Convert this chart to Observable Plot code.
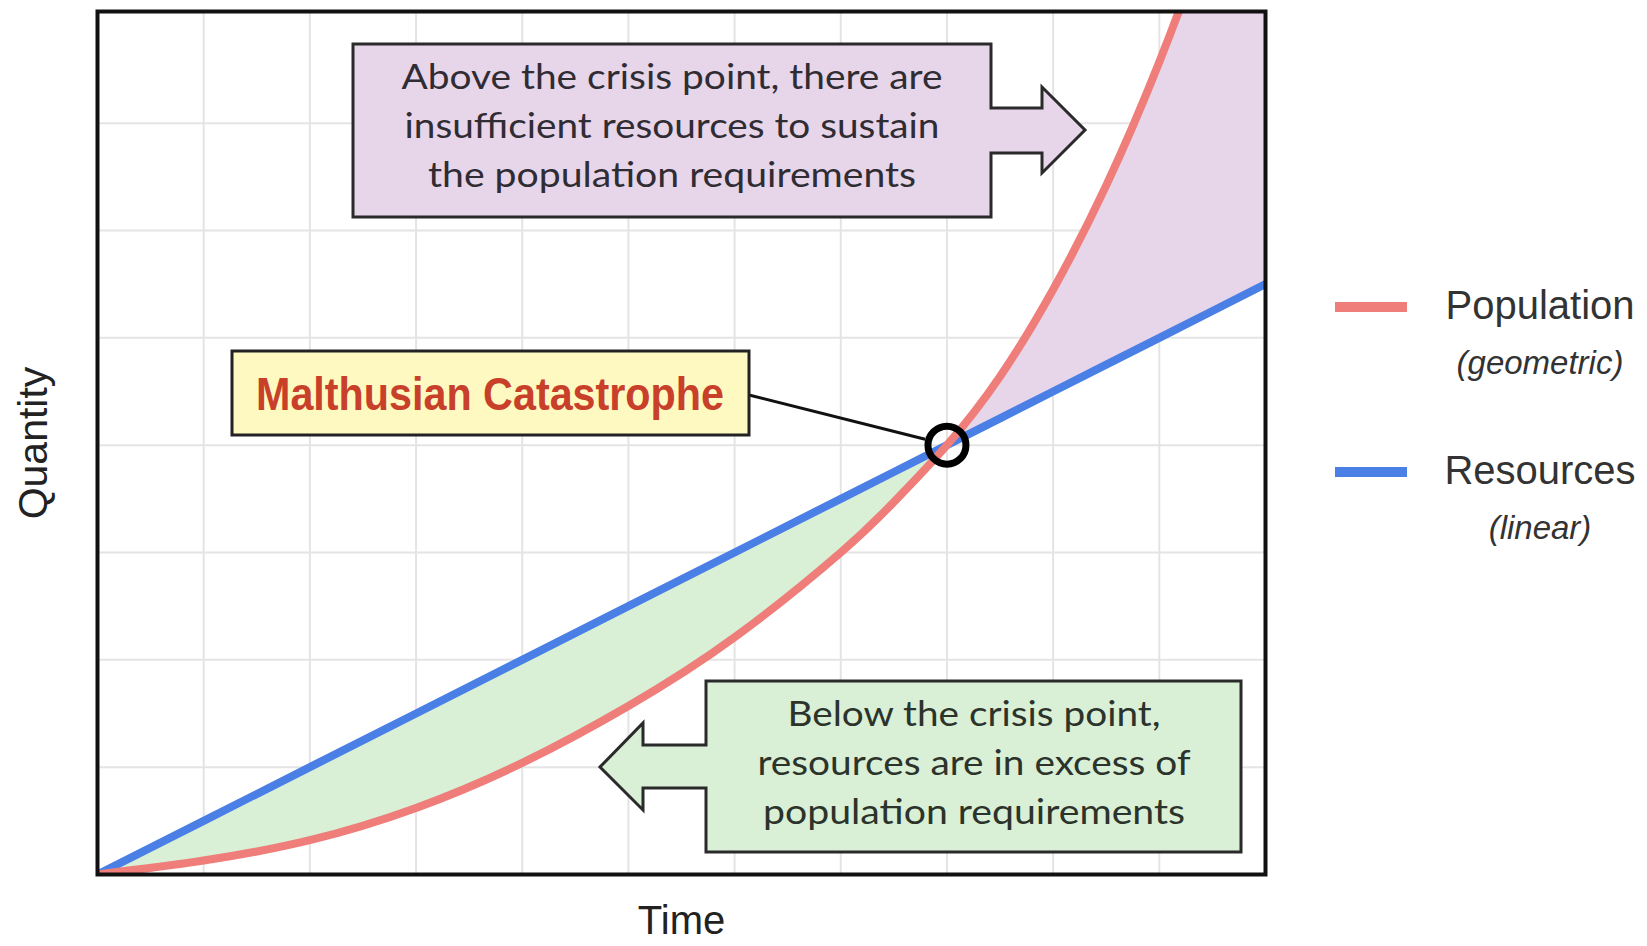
<!DOCTYPE html>
<html>
<head>
<meta charset="utf-8">
<script src="https://cdn.jsdelivr.net/npm/d3@7"></script>
<script src="https://cdn.jsdelivr.net/npm/@observablehq/plot@0.6"></script>
<style>
  html, body { margin: 0; padding: 0; background: #fff; }
  #chart svg { display: block; }
</style>
</head>
<body>
<div id="chart"></div>
<script>
// ---- data ----
const time       = [0, 1, 2, 3, 4, 5, 6, 7, 7.5, 8, 8.5, 9, 9.5, 10, 10.5, 11];
const population = [0, 0.13, 0.32, 0.62, 1.04, 1.57, 2.21, 3.0, 3.47, 4.0, 4.64, 5.45, 6.42, 7.57, 8.92, 10.47];
const resources  = [0, 0.5, 1, 1.5, 2, 2.5, 3, 3.5, 3.75, 4, 4.25, 4.5, 4.75, 5, 5.25, 5.5];
const crisisTime = [8];
const crisisQuantity = [4];
const gridTime = [1, 2, 3, 4, 5, 6, 7, 8, 9, 10];
const gridQuantity = [1, 2, 3, 4, 5, 6, 7];
const seriesNames = ["Population", "Resources"];
const seriesNotes = ["(geometric)", "(linear)"];
const axisLabels = ["Time", "Quantity"];
const crisisLabel = ["Malthusian Catastrophe"];
const aboveText = ["Above the crisis point, there are", "insufficient resources to sustain", "the population requirements"];
const belowText = ["Below the crisis point,", "resources are in excess of", "population requirements"];

// ---- build tables ----
const rows = time.map((t, i) => ({t, pop: population[i], res: resources[i]}));
const crisis = crisisTime.map((t, i) => ({t, q: crisisQuantity[i]}));

const colors = {pop: "#ef7d79", res: "#4a7fe6", green: "#d9efd6", purple: "#e7d5ea", yellow: "#fdf9c0"};

const plot = Plot.plot({
  width: 1647,
  height: 946,
  marginLeft: 97,
  marginRight: 382,
  marginTop: 11,
  marginBottom: 72,
  x: {domain: [0, 11], axis: null},
  y: {domain: [0, 8.04], axis: null},
  style: {background: "#fff", fontFamily: "'Liberation Sans', Arial, sans-serif"},
  marks: [
    Plot.ruleX(gridTime, {stroke: "#e4e4e4", strokeWidth: 2}),
    Plot.ruleY(gridQuantity, {stroke: "#e4e4e4", strokeWidth: 2}),
    Plot.areaY(rows, {x: "t", y1: "res", y2: "pop", fill: "url(#regionFill)", curve: "natural", clip: true}),
    Plot.line(rows, {x: "t", y: "res", stroke: colors.res, strokeWidth: 8, clip: true}),
    Plot.line(rows, {x: "t", y: "pop", stroke: colors.pop, strokeWidth: 8, curve: "natural", clip: true}),
    Plot.frame({stroke: "#111", strokeWidth: 4}),
    Plot.dot(crisis, {x: "t", y: "q", r: 19, stroke: "#000", strokeWidth: 7, fill: "none"}),
    Plot.text([axisLabels[0]], {frameAnchor: "bottom", dy: 47, lineAnchor: "middle", textAnchor: "middle", fontSize: 40, fill: "#222"}),
    Plot.text([axisLabels[1]], {frameAnchor: "left", dx: -64, rotate: -90, lineAnchor: "middle", textAnchor: "middle", fontSize: 41, fill: "#222"})
  ]
});
document.getElementById("chart").appendChild(plot);

// ---- scales from the plot ----
const sx = plot.scale("x"), sy = plot.scale("y");
const X = sx.apply ? v => sx.apply(v) : d3.scaleLinear(sx.domain, sx.range);
const Y = sy.apply ? v => sy.apply(v) : d3.scaleLinear(sy.domain, sy.range);

const svg = d3.select(plot);

// two-colour fill for the region between the curves, split at the crisis time
const fx0 = X(0), fx1 = X(11);
const off = (X(crisisTime[0]) - fx0) / (fx1 - fx0);
const grad = svg.insert("defs", ":first-child").append("linearGradient")
  .attr("id", "regionFill").attr("gradientUnits", "userSpaceOnUse")
  .attr("x1", fx0).attr("x2", fx1).attr("y1", 0).attr("y2", 0);
grad.append("stop").attr("offset", off).attr("stop-color", colors.green);
grad.append("stop").attr("offset", off).attr("stop-color", colors.purple);

const ann = svg.append("g").attr("class", "annotations");

// purple callout (arrow pointing right)
ann.append("path")
  .attr("d", "M353,44 H991 V108 H1042 V87 L1085,130 L1042,173 V153 H991 V217 H353 Z")
  .attr("fill", colors.purple).attr("stroke", "#2a2a2a").attr("stroke-width", 3).attr("stroke-linejoin", "miter");
const aboveBase = [89, 138, 187], aboveLen = [541, 535, 488];
ann.selectAll("text.above").data(aboveText).join("text")
  .attr("x", 672).attr("y", (d, i) => aboveBase[i])
  .attr("text-anchor", "middle").attr("font-family", "Lato, 'Open Sans', sans-serif")
  .attr("font-size", 35).attr("fill", "#302c33")
  .attr("textLength", (d, i) => aboveLen[i]).attr("lengthAdjust", "spacingAndGlyphs")
  .text(d => d);

// green callout (arrow pointing left)
ann.append("path")
  .attr("d", "M706,681 H1241 V852 H706 V788 H643 V810 L600,767 L643,723 V745 H706 Z")
  .attr("fill", colors.green).attr("stroke", "#2a2a2a").attr("stroke-width", 3).attr("stroke-linejoin", "miter");
const belowBase = [726, 775, 824], belowLen = [373, 433, 422];
ann.selectAll("text.below").data(belowText).join("text")
  .attr("x", 974).attr("y", (d, i) => belowBase[i])
  .attr("text-anchor", "middle").attr("font-family", "Lato, 'Open Sans', sans-serif")
  .attr("font-size", 35).attr("fill", "#2b332b")
  .attr("textLength", (d, i) => belowLen[i]).attr("lengthAdjust", "spacingAndGlyphs")
  .text(d => d);

// leader line from label to crisis point
const cx = X(crisisTime[0]), cy = Y(crisisQuantity[0]);
const lx = 749, ly = 395;
const ang = Math.atan2(cy - ly, cx - lx);
ann.append("line")
  .attr("x1", lx).attr("y1", ly)
  .attr("x2", cx - Math.cos(ang) * 22).attr("y2", cy - Math.sin(ang) * 22)
  .attr("stroke", "#111").attr("stroke-width", 3);

// yellow label
ann.append("rect").attr("x", 232).attr("y", 351).attr("width", 517).attr("height", 84)
  .attr("fill", colors.yellow).attr("stroke", "#222").attr("stroke-width", 3);
ann.append("text").attr("x", 490).attr("y", 410)
  .attr("text-anchor", "middle").attr("font-family", "'Liberation Sans', Arial, sans-serif")
  .attr("font-weight", "bold").attr("font-size", 46).attr("fill", "#c8402a")
  .attr("textLength", 468).attr("lengthAdjust", "spacingAndGlyphs")
  .text(crisisLabel[0]);

// legend
const leg = svg.append("g").attr("class", "legend").attr("font-family", "'Liberation Sans', Arial, sans-serif");
const legY = [307, 472], legColors = [colors.pop, colors.res];
seriesNames.forEach((name, i) => {
  leg.append("line").attr("x1", 1335).attr("x2", 1407).attr("y1", legY[i]).attr("y2", legY[i])
    .attr("stroke", legColors[i]).attr("stroke-width", 10);
  leg.append("text").attr("x", 1540).attr("y", legY[i] + 12)
    .attr("text-anchor", "middle").attr("font-size", 40).attr("fill", "#333").text(name);
  leg.append("text").attr("x", 1540).attr("y", legY[i] + 67)
    .attr("text-anchor", "middle").attr("font-size", 33).attr("font-style", "italic").attr("fill", "#333").text(seriesNotes[i]);
});
</script>
</body>
</html>
